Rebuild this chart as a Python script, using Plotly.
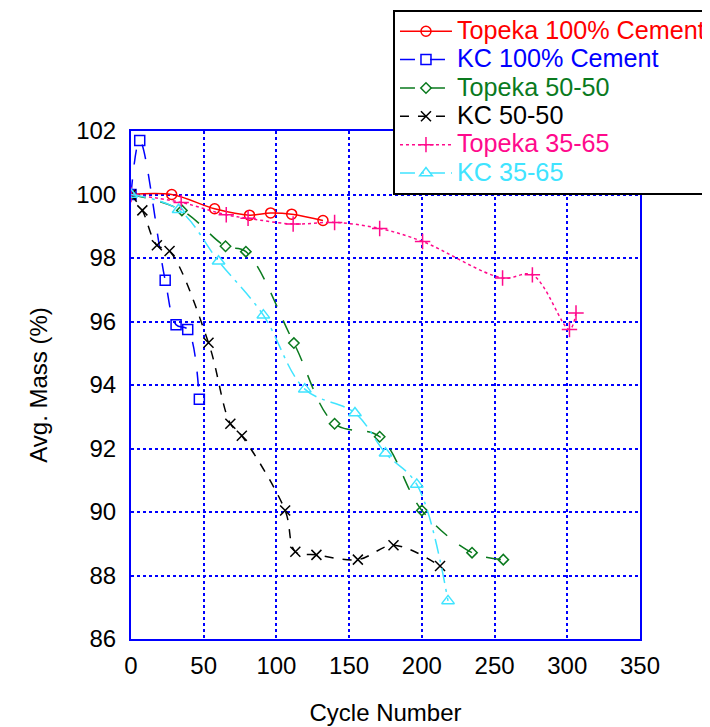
import plotly.graph_objects as go

# Data
topeka100_x = [0, 28, 57.5, 81.5, 96, 110.5, 132]
topeka100_y = [100, 100, 99.55, 99.35, 99.42, 99.38, 99.18]

kc100_x = [0, 6, 23.5, 31, 39, 47]
kc100_y = [100, 101.7, 97.3, 95.9, 95.75, 93.55]

topeka5050_x = [0, 35, 65, 79, 112, 140, 171, 200, 234.5, 256]
topeka5050_y = [100, 99.5, 98.37, 98.2, 95.32, 92.78, 92.37, 90.05, 88.72, 88.5]

kc5050_x = [0, 7.8, 17.8, 26.5, 53.3, 68.3, 76.2, 106, 113, 127.5, 156, 180.5, 212.5]
kc5050_y = [100, 99.5, 98.4, 98.22, 95.33, 92.78, 92.4, 90.05, 88.75, 88.65, 88.5, 88.95, 88.3]

topeka3565_x = [0, 34.5, 65.5, 80.5, 111.5, 140, 171, 200.5, 255.5, 276, 301.5, 306]
topeka3565_y = [100, 99.75, 99.36, 99.25, 99.07, 99.12, 98.93, 98.52, 97.37, 97.47, 95.75, 96.27]

kc3565_x = [0, 32.7, 60.2, 91, 119.5, 154, 175, 196.5, 218]
kc3565_y = [100, 99.52, 97.9, 96.2, 93.87, 93.12, 91.85, 90.87, 87.2]

x_ticks = [0, 50, 100, 150, 200, 250, 300, 350]
y_ticks = [86, 88, 90, 92, 94, 96, 98, 100, 102]

FONT = "Arial, Liberation Sans, sans-serif"

series = [
    ("Topeka 100% Cement", topeka100_x, topeka100_y, "#ff0000", "solid", "circle-open", 10),
    ("KC 100% Cement", kc100_x, kc100_y, "#0000ff", "longdash", "square-open", 10),
    ("Topeka 50-50", topeka5050_x, topeka5050_y, "#0a7a1e", "longdash", "diamond-open", 8),
    ("KC 50-50", kc5050_x, kc5050_y, "#000000", "dash", "x-thin-open", 10),
    ("Topeka 35-65", topeka3565_x, topeka3565_y, "#ff0a8c", "dot", "cross-thin-open", 11),
    ("KC 35-65", kc3565_x, kc3565_y, "#40e4ff", "longdashdot", "triangle-up-open", 11),
]

fig = go.Figure()
for name, xs, ys, color, dash, sym, size in series:
    label = f"<span style='font-size:25.2px;color:{color}'>{name}</span>"
    fig.add_trace(go.Scatter(
        x=xs, y=ys, name=label, mode="lines+markers",
        line=dict(color=color, dash=dash, width=1.5, shape="spline", smoothing=1),
        marker=dict(symbol=sym, size=size, color=color, line=dict(color=color, width=1.5)),
    ))

axis_common = dict(
    showline=True, mirror=True, linecolor="#0000ff", linewidth=2,
    showgrid=True, gridcolor="#0000ff", griddash="dot", gridwidth=1.5,
    zeroline=False, ticks="", automargin=False,
    tickfont=dict(family=FONT, size=24, color="black"),
    title_font=dict(family=FONT, size=24, color="black"),
)

fig.update_xaxes(range=[0, 350], tickvals=x_ticks, title_text="Cycle Number",
                 title_standoff=26, ticklabelstandoff=4, **axis_common)
fig.update_yaxes(range=[86, 102], tickvals=y_ticks, title_text="Avg. Mass (%)",
                 title_standoff=22, ticklabelstandoff=8, **axis_common)

fig.update_layout(
    width=710, height=727,
    margin=dict(l=123, r=78, t=123, b=96, autoexpand=False),
    plot_bgcolor="white", paper_bgcolor="white",
    font=dict(family=FONT, color="black"),
    legend=dict(
        x=0.5147, y=1.238, xanchor="left", yanchor="top",
        bgcolor="white", bordercolor="black", borderwidth=2,
        font=dict(family=FONT, size=19.5),
        itemwidth=52, tracegroupgap=0,
    ),
    showlegend=True,
)

fig.write_html("out.html")
